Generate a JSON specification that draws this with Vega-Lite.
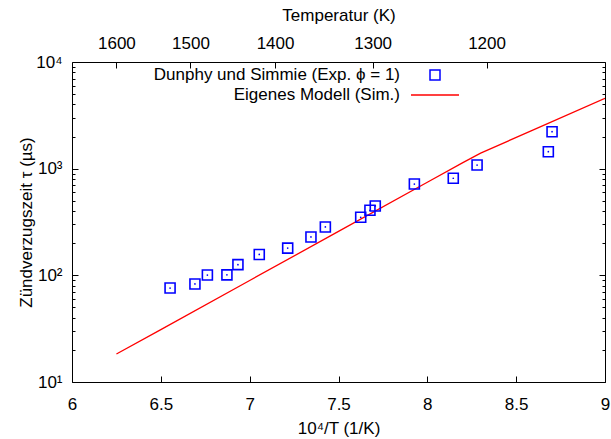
{
  "$schema": "https://vega.github.io/schema/vega-lite/v6.json",
  "width": 533,
  "height": 320,
  "autosize": {"type": "none"},
  "padding": {"left": 72, "top": 62, "right": 6, "bottom": 57},
  "background": "white",
  "config": {
    "font": "Liberation Sans",
    "view": {"stroke": null},
    "axis": {
      "grid": false,
      "domainColor": "black",
      "domainWidth": 1,
      "tickColor": "black",
      "tickWidth": 1,
      "labelColor": "black",
      "titleColor": "black",
      "labelFontSize": 17,
      "titleFontSize": 17,
      "titleFontWeight": "normal",
      "labelFont": "Liberation Sans",
      "titleFont": "Liberation Sans"
    },
    "legend": {
      "orient": "none",
      "legendX": 354,
      "legendY": 4,
      "padding": 0,
      "labelAlign": "right",
      "labelOffset": -44,
      "labelFontSize": 17,
      "labelFont": "Liberation Sans",
      "labelColor": "black",
      "labelLimit": 400,
      "rowPadding": 3,
      "symbolSize": 256,
      "symbolStrokeWidth": 1.5
    }
  },
  "datasets": {
    "pts": [
      {"x": 6.552, "tau": 76, "series": "Dunphy und Simmie (Exp. ϕ = 1)"},
      {"x": 6.692, "tau": 83, "series": "Dunphy und Simmie (Exp. ϕ = 1)"},
      {"x": 6.762, "tau": 100.7, "series": "Dunphy und Simmie (Exp. ϕ = 1)"},
      {"x": 6.872, "tau": 101, "series": "Dunphy und Simmie (Exp. ϕ = 1)"},
      {"x": 6.934, "tau": 126, "series": "Dunphy und Simmie (Exp. ϕ = 1)"},
      {"x": 7.054, "tau": 157, "series": "Dunphy und Simmie (Exp. ϕ = 1)"},
      {"x": 7.214, "tau": 180, "series": "Dunphy und Simmie (Exp. ϕ = 1)"},
      {"x": 7.345, "tau": 229, "series": "Dunphy und Simmie (Exp. ϕ = 1)"},
      {"x": 7.426, "tau": 284, "series": "Dunphy und Simmie (Exp. ϕ = 1)"},
      {"x": 7.625, "tau": 350, "series": "Dunphy und Simmie (Exp. ϕ = 1)"},
      {"x": 7.677, "tau": 407, "series": "Dunphy und Simmie (Exp. ϕ = 1)"},
      {"x": 7.707, "tau": 447, "series": "Dunphy und Simmie (Exp. ϕ = 1)"},
      {"x": 7.927, "tau": 718, "series": "Dunphy und Simmie (Exp. ϕ = 1)"},
      {"x": 8.146, "tau": 813, "series": "Dunphy und Simmie (Exp. ϕ = 1)"},
      {"x": 8.28, "tau": 1081, "series": "Dunphy und Simmie (Exp. ϕ = 1)"},
      {"x": 8.681, "tau": 1443, "series": "Dunphy und Simmie (Exp. ϕ = 1)"},
      {"x": 8.702, "tau": 2222, "series": "Dunphy und Simmie (Exp. ϕ = 1)"}
    ],
    "sim": [
      {"x": 6.25, "tau": 18.3, "series": "Eigenes Modell (Sim.)"},
      {"x": 6.5, "tau": 31.0, "series": "Eigenes Modell (Sim.)"},
      {"x": 7.0, "tau": 89.5, "series": "Eigenes Modell (Sim.)"},
      {"x": 7.5, "tau": 258, "series": "Eigenes Modell (Sim.)"},
      {"x": 8.0, "tau": 745, "series": "Eigenes Modell (Sim.)"},
      {"x": 8.2, "tau": 1140, "series": "Eigenes Modell (Sim.)"},
      {"x": 8.3, "tau": 1400, "series": "Eigenes Modell (Sim.)"},
      {"x": 8.6, "tau": 2322, "series": "Eigenes Modell (Sim.)"},
      {"x": 9.0, "tau": 4571, "series": "Eigenes Modell (Sim.)"}
    ]
  },
  "layer": [
    {
      "data": {"name": "sim"},
      "mark": {"type": "line", "strokeWidth": 1.3, "clip": true},
      "encoding": {
        "x": {
          "field": "x", "type": "quantitative",
          "scale": {"domain": [6, 9], "nice": false, "zero": false},
          "axis": {
            "orient": "bottom",
            "values": [6, 6.5, 7, 7.5, 8, 8.5, 9],
            "format": "~g",
            "tickSize": -6,
            "labelPadding": 20,
            "labelFlush": false,
            "title": "10⁴/T (1/K)",
            "titlePadding": 8
          }
        },
        "y": {
          "field": "tau", "type": "quantitative",
          "scale": {"type": "log", "domain": [10, 10000], "nice": false},
          "axis": {
            "orient": "left",
            "values": [10,20,30,40,50,60,70,80,90,100,200,300,400,500,600,700,800,900,1000,2000,3000,4000,5000,6000,7000,8000,9000,10000],
            "labelExpr": "datum.value == 10 ? '10¹' : datum.value == 100 ? '10²' : datum.value == 1000 ? '10³' : datum.value == 10000 ? '10⁴' : ''",
            "tickSize": {"condition": {"test": "indexof([10,100,1000,10000], datum.value) >= 0", "value": -6}, "value": -3},
            "labelPadding": 16,
            "labelFlush": false,
            "title": "Zündverzugszeit τ (µs)",
            "titlePadding": 0
          }
        },
        "color": {
          "field": "series", "type": "nominal",
          "scale": {"domain": ["Dunphy und Simmie (Exp. ϕ = 1)", "Eigenes Modell (Sim.)"], "range": ["#0000ff", "#ff0000"]},
          "legend": {"title": null}
        }
      }
    },
    {
      "data": {"name": "pts"},
      "mark": {"type": "point", "filled": false, "strokeWidth": 1.6, "opacity": 1, "size": 256},
      "encoding": {
        "x": {
          "field": "x", "type": "quantitative",
          "axis": {
            "orient": "top",
            "values": [6.25, 6.666667, 7.142857, 7.692308, 8.333333],
            "labelExpr": "format(round(10000 / datum.value), 'd')",
            "tickSize": -6,
            "labelPadding": 16,
            "labelFlush": false,
            "title": "Temperatur (K)",
            "titlePadding": 10
          }
        },
        "y": {
          "field": "tau", "type": "quantitative",
          "axis": {
            "orient": "right",
            "values": [10,20,30,40,50,60,70,80,90,100,200,300,400,500,600,700,800,900,1000,2000,3000,4000,5000,6000,7000,8000,9000,10000],
            "labels": false,
            "tickSize": {"condition": {"test": "indexof([10,100,1000,10000], datum.value) >= 0", "value": -6}, "value": -3},
            "title": null
          }
        },
        "color": {"field": "series", "type": "nominal", "legend": {"title": null}},
        "shape": {
          "field": "series", "type": "nominal",
          "scale": {"domain": ["Dunphy und Simmie (Exp. ϕ = 1)", "Eigenes Modell (Sim.)"], "range": ["M-0.625,-0.625H0.625V0.625H-0.625Z", "M-3,0H3"]},
          "legend": {"title": null}
        }
      }
    },
    {
      "data": {"name": "pts"},
      "mark": {"type": "point", "filled": true, "size": 3, "opacity": 1, "color": "#0000ff"},
      "encoding": {
        "x": {"field": "x", "type": "quantitative", "axis": null},
        "y": {"field": "tau", "type": "quantitative", "axis": null}
      }
    }
  ],
  "resolve": {"axis": {"x": "independent", "y": "independent"}}
}
